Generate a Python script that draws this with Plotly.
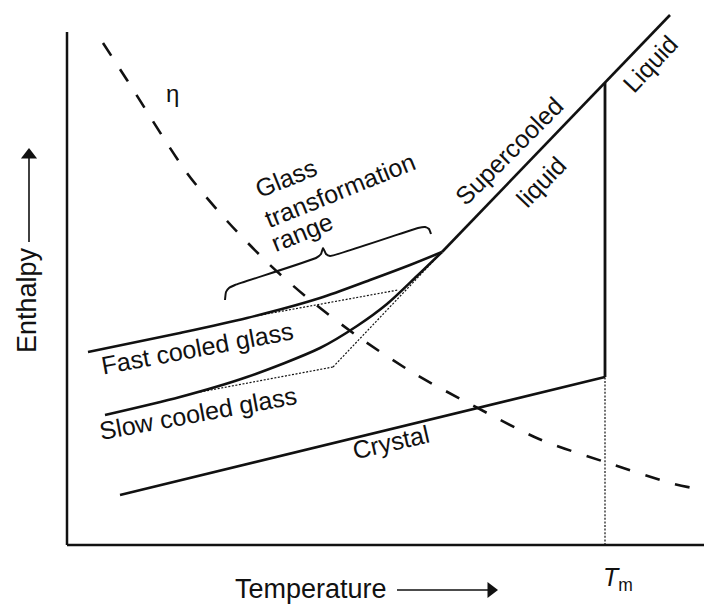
import plotly.graph_objects as go

# ---------------- data (temperature T, enthalpy H in arbitrary diagram units) ----------------
liquid_T = [375, 538, 603]
liquid_H = [293, 462, 530]

fast_T = [21, 113, 180, 253, 303, 343, 375]
fast_H = [193, 212, 227, 247, 265, 280, 293]

slow_T = [38, 113, 180, 253, 290, 320, 350, 375]
slow_H = [130, 148, 168, 197, 219, 241, 269, 293]

liquid_ext_T = [266, 375]
liquid_ext_H = [178, 293]

fast_ext_T = [183, 331]
fast_ext_H = [228, 255]

slow_ext_T = [133, 266]
slow_ext_H = [153, 178]

crystal_T = [53, 538]
crystal_H = [50, 168]

melt_T = [538, 538]
melt_H = [168, 462]

melt_drop_T = [538, 538]
melt_drop_H = [0, 168]

eta_T = [36, 60, 120, 161, 203, 243, 293, 348, 405, 472, 538, 607, 637]
eta_H = [502, 465, 372, 323, 280, 245, 207, 171, 140, 106, 83, 61, 55]

brace_T = [158, 159, 162, 168, 249, 254, 256, 259, 263, 351, 358, 362, 364]
brace_H = [245, 253, 257, 260, 287, 291, 297, 291, 289, 317, 318, 316, 311]

# axis frame extents and axis-title arrows
T_AXIS_MAX = 637
H_AXIS_MAX = 513
t_arrow_T = [330, 424]
t_arrow_H = [-45, -45]
h_arrow_T = [-38, -38]
h_arrow_H = [303, 390]

FONT = "Liberation Sans, Arial, Helvetica, sans-serif"
INK = "#111111"

fig = go.Figure()


def add_line(x, y, width=2.6, dash="solid", shape="linear", smoothing=None):
    line = dict(color=INK, width=width, dash=dash, shape=shape)
    if smoothing is not None:
        line["smoothing"] = smoothing
    fig.add_trace(go.Scatter(x=x, y=y, mode="lines", line=line,
                             hoverinfo="skip", showlegend=False))


# dotted extrapolations
add_line(liquid_ext_T, liquid_ext_H, width=1.2, dash="2px,1.6px")
add_line(fast_ext_T, fast_ext_H, width=1.2, dash="2px,1.6px")
add_line(slow_ext_T, slow_ext_H, width=1.2, dash="2px,1.6px")
add_line(melt_drop_T, melt_drop_H, width=1.2, dash="2px,1.6px")

# viscosity (dashed)
add_line(eta_T, eta_H, width=2.6, dash="15px,16px", shape="spline", smoothing=0.8)

# solid curves
add_line(liquid_T, liquid_H)
add_line(fast_T, fast_H, shape="spline", smoothing=0.8)
add_line(slow_T, slow_H, shape="spline", smoothing=0.8)
add_line(crystal_T, crystal_H)
add_line(melt_T, melt_H, width=2.8)
add_line(brace_T, brace_H, width=2, shape="spline", smoothing=0.4)

# axis-title arrows
for ax_x, ax_y, sym in [(t_arrow_T, t_arrow_H, "triangle-right"),
                        (h_arrow_T, h_arrow_H, "triangle-up")]:
    fig.add_trace(go.Scatter(x=ax_x, y=ax_y, mode="lines", line=dict(color=INK, width=1.6),
                             hoverinfo="skip", showlegend=False, cliponaxis=False))
    fig.add_trace(go.Scatter(x=[ax_x[-1]], y=[ax_y[-1]], mode="markers",
                             marker=dict(symbol=sym, size=14, color=INK, line=dict(width=0)),
                             hoverinfo="skip", showlegend=False, cliponaxis=False))

# axis frame
shapes = [
    dict(type="line", xref="x", yref="y", x0=0, x1=T_AXIS_MAX, y0=0, y1=0,
         line=dict(color=INK, width=2.5)),
    dict(type="line", xref="x", yref="y", x0=0, x1=0, y0=0, y1=H_AXIS_MAX,
         line=dict(color=INK, width=2.5)),
]


def label(text, x, y, size=25, angle=0):
    return dict(text=text, x=x, y=y, xref="x", yref="y", showarrow=False,
                textangle=angle, xanchor="center", yanchor="middle",
                font=dict(family=FONT, size=size, color=INK))


annotations = [
    label("η", 105, 452, size=24),
    label("Glass", 219, 367, angle=-22),
    label("transformation", 273, 355, angle=-22),
    label("range", 235, 313, angle=-22),
    label("Supercooled", 442, 394, angle=-45),
    label("liquid", 474, 363, angle=-46),
    label("Liquid", 583, 481, angle=-47),
    label("Fast cooled glass", 130, 197, angle=-10.5),
    label("Slow cooled glass", 131, 132, angle=-10.5),
    label("Crystal", 324, 103, angle=-13),
    label("<i>T</i><sub>m</sub>", 551, -34, size=25),
    label("Temperature", 244, -44, size=27),
    label("Enthalpy", -40, 245, size=27, angle=-90),
]

fig.update_layout(
    width=704, height=604, autosize=False,
    margin=dict(l=0, r=0, t=0, b=0, pad=0),
    paper_bgcolor="white", plot_bgcolor="white",
    xaxis=dict(range=[-67, 637], visible=False, fixedrange=True),
    yaxis=dict(range=[-59, 545], visible=False, fixedrange=True),
    shapes=shapes, annotations=annotations,
    font=dict(family=FONT, color=INK),
)

fig.write_html("out.html", include_plotlyjs=True, config={"displayModeBar": False},
               post_script="document.body.style.margin='0';document.body.style.overflow='hidden';")
